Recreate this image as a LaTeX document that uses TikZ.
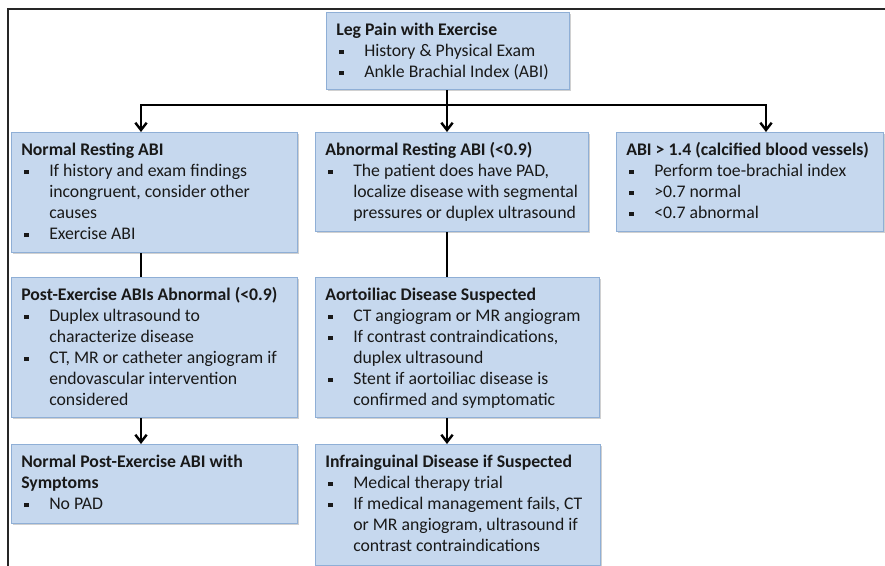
\documentclass[tikz,border=0pt]{standalone}
\usepackage{fontspec}
\setmainfont{Carlito}
\usetikzlibrary{arrows.meta,shadows}
\definecolor{boxfill}{RGB}{198,216,238}
\definecolor{boxedge}{RGB}{143,175,214}
\definecolor{txtcol}{RGB}{25,25,25}
\newcommand\bul[1]{\makebox[21pt][l]{\hspace{2.25pt}\rule[1.6pt]{3.2pt}{3.2pt}}#1}
\newcommand\cnt[1]{\hspace*{21pt}#1}
\newcommand\fl{\rule{0pt}{10.5pt}}
\begin{document}
\begin{tikzpicture}[x=0.75pt,y=-0.75pt,
 box/.style={draw=boxedge, line width=0.9pt, fill=boxfill, anchor=north west, inner sep=0pt,
   drop shadow={opacity=0.3, shadow xshift=0.8pt, shadow yshift=-0.9pt, fill=black!60}},
 txt/.style={anchor=north west, inner sep=0pt, align=left, text=txtcol, font=\fontsize{13.3}{15.75}\selectfont},
 conn/.style={line width=1.8pt, black, line join=miter},
 arr/.style={conn, -{Straight Barb[length=5.5pt,width=8.5pt]}},
 frameline/.style={line width=1.4pt, black!85}]
\fill[white] (0,0) rectangle (885,566);
\useasboundingbox (0,0) rectangle (885,566);
% frame
\coordinate (fa) at (8,566);
\coordinate (fb) at (8,9);
\coordinate (fc) at (885,9);
\draw[frameline] (fa) -- (fb) -- (fc);
% boxes
\node[box, minimum width=182.25pt, minimum height=57.75pt] (top) at (326,12) {};
\node[txt] (topt) at (336,21) {\fl\textbf{Leg Pain with Exercise}\\ \bul{History \& Physical Exam}\\ \bul{Ankle Brachial Index (ABI)}};

\node[box, minimum width=214.5pt, minimum height=90pt] (A) at (11,132) {};
\node[txt] (At) at (21,141) {\fl\textbf{Normal Resting ABI}\\ \bul{If history and exam findings}\\ \cnt{incongruent, consider other}\\ \cnt{causes}\\ \bul{Exercise ABI}};

\node[box, minimum width=204.75pt, minimum height=74.25pt] (B) at (315,132) {};
\node[txt] (Bt) at (325,141) {\fl\textbf{Abnormal Resting ABI (<0.9)}\\ \bul{The patient does have PAD,}\\ \cnt{localize disease with segmental}\\ \cnt{pressures or duplex ultrasound}};

\node[box, minimum width=200.25pt, minimum height=74.25pt] (C) at (616,132) {};
\node[txt] (Ct) at (626,141) {\fl\textbf{ABI > 1.4 (calcified blood vessels)}\\ \bul{Perform toe-brachial index}\\ \bul{>0.7 normal}\\ \bul{<0.7 abnormal}};

\node[box, minimum width=214.5pt, minimum height=105pt] (D) at (11,277) {};
\node[txt] (Dt) at (21,286) {\fl\textbf{Post-Exercise ABIs Abnormal (<0.9)}\\ \bul{Duplex ultrasound to}\\ \cnt{characterize disease}\\ \bul{CT, MR or catheter angiogram if}\\ \cnt{endovascular intervention}\\ \cnt{considered}};

\node[box, minimum width=213pt, minimum height=105pt] (E) at (315,277) {};
\node[txt] (Et) at (325,286) {\fl\textbf{Aortoiliac Disease Suspected}\\ \bul{CT angiogram or MR angiogram}\\ \bul{If contrast contraindications,}\\ \cnt{duplex ultrasound}\\ \bul{Stent if aortoiliac disease is}\\ \cnt{confirmed and symptomatic}};

\node[box, minimum width=214.5pt, minimum height=59.25pt] (F) at (11,444) {};
\node[txt] (Ft) at (21,453) {\fl\textbf{Normal Post-Exercise ABI with}\\ \textbf{Symptoms}\\ \bul{No PAD}};

\node[box, minimum width=213.75pt, minimum height=90.75pt] (G) at (315,444) {};
\node[txt] (Gt) at (325,453) {\fl\textbf{Infrainguinal Disease if Suspected}\\ \bul{Medical therapy trial}\\ \bul{If medical management fails, CT}\\ \cnt{or MR angiogram, ultrasound if}\\ \cnt{contrast contraindications}};

% connectors
\coordinate (hl) at (141,105);
\coordinate (hm) at (447,105);
\coordinate (hr) at (766,105);
\draw[conn] (top.south -| hm) -- (hm);
\draw[arr] (hm) -- (hl) -- (A.north -| hl);
\draw[arr] (hm) -- (hr) -- (C.north -| hr);
\draw[arr] (hm) -- (B.north -| hm);
\draw[conn] (A.south -| hl) -- (D.north -| hl);
\draw[conn] (B.south -| hm) -- (E.north -| hm);
\draw[arr] (D.south -| hl) -- (F.north -| hl);
\draw[arr] (E.south -| hm) -- (G.north -| hm);
\end{tikzpicture}
\end{document}
